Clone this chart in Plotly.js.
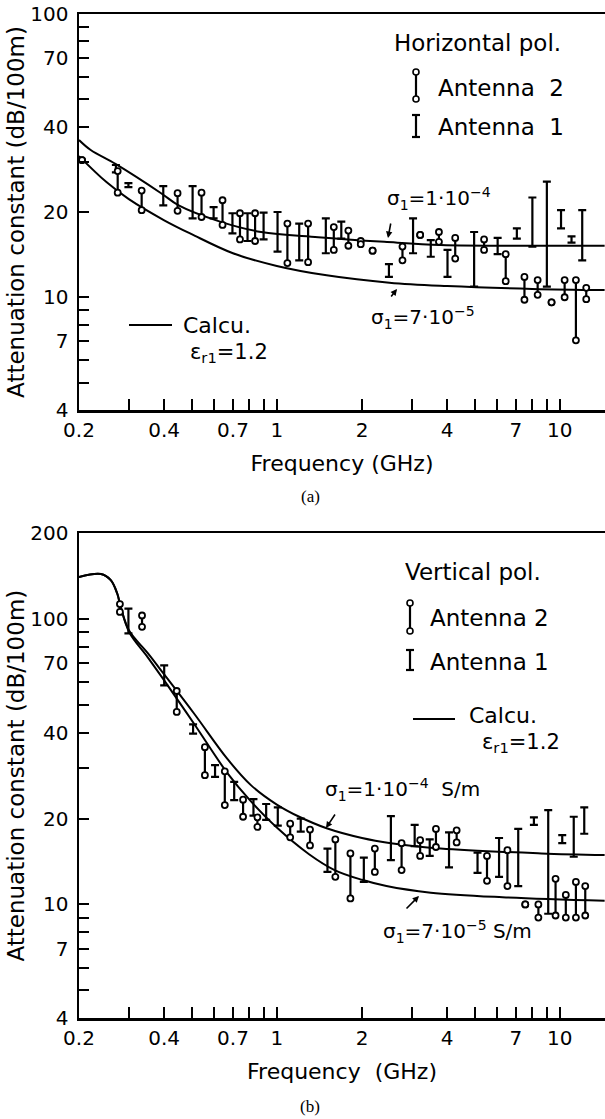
<!DOCTYPE html>
<html><head><meta charset="utf-8">
<script src="https://cdn.plot.ly/plotly-3.0.1.min.js"></script>
<style>html,body{margin:0;padding:0;background:#fff;}#chart{width:605px;height:1119px;}</style>
</head><body><div id="chart"></div>
<script>
// ---------- (a) Horizontal polarization ----------
const hA2Freq = [0.205,0.274,0.333,0.446,0.542,0.643,0.741,0.838,1.09,1.29,1.59,1.79,1.98,2.18,2.78,3.21,3.74,4.27,5.40,6.44,7.5,8.35,9.35,10.4,11.4,12.4];
const hA2High = [30.5,27.9,23.8,23.3,23.4,22.0,19.8,19.8,18.2,18.2,17.7,17.2,15.8,14.6,15.1,16.6,17.0,16.2,16.0,14.2,11.8,11.5,9.6,11.5,11.5,10.8];
const hA2Low  = [30.5,23.4,20.3,20.2,19.2,18.0,16.0,15.8,13.2,13.3,14.7,15.2,15.4,14.6,13.5,16.6,15.7,13.7,14.7,11.4,9.8,10.2,9.6,10.0,7.05,9.85];

const hA1Freq = [0.27,0.299,0.397,0.504,0.598,0.697,0.788,0.898,1.006,1.20,1.49,1.69,2.49,3.03,3.5,4.01,4.98,6.03,7.05,8.0,9.0,10.1,11.0,12.0];
const hA1High = [29.3,25.3,24.7,24.7,20.8,19.8,19.8,19.9,20.0,18.2,19.0,18.5,13.1,19.0,15.9,14.7,17.0,16.2,17.5,22.5,25.6,20.3,16.4,20.3];
const hA1Low  = [27.6,24.5,21.1,19.0,19.0,16.8,15.8,16.0,14.5,13.5,14.3,16.1,11.8,14.3,13.9,11.8,10.9,14.2,16.1,15.1,10.9,17.5,15.6,13.5];

const hCalcS1Freq = [0.2,0.22,0.27,0.39,0.45,0.63,0.88,1.4,2.4,3.8,8,14.4];
const hCalcS1Val  = [35.9,33.1,29.5,23.3,21.1,18.5,17.0,16.3,15.7,15.3,15.2,15.2];
const hCalcS2Freq = [0.2,0.25,0.3,0.4,0.5,0.7,1.0,1.5,2.5,4,8,14.4];
const hCalcS2Val  = [31.5,25.5,22.2,18.7,16.7,14.3,12.9,11.95,11.25,10.95,10.7,10.6];

// ---------- (b) Vertical polarization ----------
const vA2Freq = [0.279,0.334,0.443,0.557,0.655,0.760,0.854,1.115,1.31,1.61,1.82,2.22,2.76,3.21,3.65,4.32,5.53,6.53,7.55,8.4,9.66,10.5,11.4,12.3];
const vA2High = [113,103,56,35.6,29.3,23.3,20.2,19.2,18.3,16.9,15.1,15.7,16.4,16.8,18.4,18.2,14.8,15.5,10.0,10.0,12.3,10.8,12.0,11.6];
const vA2Low  = [106,94,47.3,28.4,22.3,20.3,18.7,17.2,16.1,12.5,10.5,13.0,13.2,14.8,15.9,16.5,12.1,11.6,10.0,9.0,9.15,9.0,9.0,9.15];

const vA1Freq = [0.299,0.400,0.506,0.605,0.707,0.827,0.917,1.008,1.215,1.51,2.03,2.53,3.07,3.47,4.06,5.12,6.10,7.13,8.1,9.1,10.2,11.2,12.2];
const vA1High = [108.9,68.9,42.8,30.8,26.9,23.4,22.5,21.9,20.0,15.7,14.6,20.4,19.0,16.9,17.9,15.2,17.1,18.4,20.2,21.4,17.5,20.3,21.9];
const vA1Low  = [89.2,58.6,39.7,28.0,23.2,20.5,19.8,18.9,18.0,13.0,12.0,14.3,16.0,14.8,13.5,12.9,12.5,11.6,19.0,9.28,16.4,14.7,17.7];

const vCalcS1Freq = [0.2,0.239,0.259,0.273,0.281,0.301,0.35,0.4,0.51,0.67,0.81,1.0,1.2,1.5,2.0,2.53,3.79,8.6,14.4];
const vCalcS1Val  = [140.6,144,137,123,110,91,76,64,46.7,32.3,26.2,22.4,20.3,18.5,17.1,16.4,15.7,15.1,14.9];
const vCalcS2Freq = [0.2,0.239,0.259,0.273,0.281,0.301,0.35,0.4,0.51,0.67,0.8,1.0,1.3,1.6,2.0,2.44,3.5,6.27,14.4];
const vCalcS2Val  = [140.6,144,137,123,110,90,73.5,61,43,28.8,23.3,18.6,15.0,13.2,12.2,11.6,11.0,10.6,10.3];

// ---------- axis ticks ----------
const xTickVals = [0.2,0.4,0.7,1,2,4,7,10];
const xTickText = ['0.2','0.4','0.7','1','2','4','7','10'];
const xMinorTicks = [0.3,0.5,0.6,0.8,0.9,3,5,6,8,9];
const xLongTicks = [1,10];
const xShortTicks = [11,12];
const yTickValsA = [4,7,10,20,40,70,100];
const yTickValsB = [4,7,10,20,40,70,100,200];
const yMinorTicks = [5,6,8,9,30,50,60,80,90];
const yLongTicksA = [10];
const yLongTicksB = [10,100];

// ---------- layout helpers (pixel -> paper) ----------
const W = 605, H = 1119, L = 79;
const px = x => (x - L) / (W - L);
const py = y => 1 - y / H;
const FONT = 'DejaVu Sans';
const X_RANGE = [Math.log10(0.2), Math.log10(0.2) + (W - L) / 283];

function a2(f, hi, lo, xa, ya) {
  const mk = {symbol: 'circle', size: 6, color: 'white', line: {color: 'black', width: 1.8}};
  return [
    {x: f, y: hi, xaxis: xa, yaxis: ya, type: 'scatter', mode: 'markers', marker: mk, showlegend: false, hoverinfo: 'skip',
     error_y: {type: 'data', symmetric: false, array: f.map(() => 0), arrayminus: hi.map((h, i) => h - lo[i]), width: 0, thickness: 2.2, color: 'black'}},
    {x: f, y: lo, xaxis: xa, yaxis: ya, type: 'scatter', mode: 'markers', marker: mk, showlegend: false, hoverinfo: 'skip'}
  ];
}
function a1(f, hi, lo, xa, ya) {
  return {x: f, y: hi, xaxis: xa, yaxis: ya, type: 'scatter', mode: 'markers', marker: {size: 2, color: 'rgba(0,0,0,0)'},
    showlegend: false, hoverinfo: 'skip',
    error_y: {type: 'data', symmetric: false, array: f.map(() => 0), arrayminus: hi.map((h, i) => h - lo[i]), width: 4, thickness: 2.2, color: 'black'}};
}
function curve(f, v, xa, ya) {
  return {x: f, y: v, xaxis: xa, yaxis: ya, type: 'scatter', mode: 'lines', line: {color: 'black', width: 2, shape: 'spline', smoothing: 1},
    showlegend: false, hoverinfo: 'skip'};
}

const data = [
  curve(hCalcS1Freq, hCalcS1Val, 'x', 'y'),
  curve(hCalcS2Freq, hCalcS2Val, 'x', 'y'),
  a1(hA1Freq, hA1High, hA1Low, 'x', 'y'),
  ...a2(hA2Freq, hA2High, hA2Low, 'x', 'y'),
  curve(vCalcS1Freq, vCalcS1Val, 'x2', 'y2'),
  curve(vCalcS2Freq, vCalcS2Val, 'x2', 'y2'),
  a1(vA1Freq, vA1High, vA1Low, 'x2', 'y2'),
  ...a2(vA2Freq, vA2High, vA2Low, 'x2', 'y2')
];

const tickBase = {ticks: 'inside', tickwidth: 2, tickcolor: 'black', showgrid: false, zeroline: false};
function xAxis(anchor, ttl) {
  return Object.assign({}, tickBase, {domain: [0, 1], anchor: anchor, type: 'log', range: X_RANGE, tickmode: 'array',
    tickvals: xTickVals, ticktext: xTickText, ticklen: 11, showline: true, linewidth: 2.5, linecolor: 'black', mirror: true,
    tickfont: {family: FONT, size: 20, color: 'black'}, ticklabelstandoff: 0,
    minor: {tickmode: 'array', tickvals: xMinorTicks, ticks: 'inside', ticklen: 11, tickwidth: 2, tickcolor: 'black', showgrid: false},
    title: {text: ttl, font: {family: FONT, size: 22, color: 'black'}, standoff: 15}});
}
function xLong(over, anchor) {
  return Object.assign({}, tickBase, {overlaying: over, anchor: anchor, side: 'bottom', type: 'log', range: X_RANGE, tickmode: 'array',
    tickvals: xLongTicks, ticklen: 23, showticklabels: false, showline: false,
    minor: {tickmode: 'array', tickvals: xShortTicks, ticks: 'inside', ticklen: 7, tickwidth: 2, tickcolor: 'black', showgrid: false}});
}
function yAxis(anchor, dom, rng, vals, ttl) {
  return Object.assign({}, tickBase, {domain: dom, anchor: anchor, type: 'log', range: rng, tickmode: 'array',
    tickvals: vals, ticktext: vals.map(String), ticklen: 10, showline: true, linewidth: 2.5, linecolor: 'black', mirror: false,
    tickfont: {family: FONT, size: 20, color: 'black'}, ticklabelstandoff: 4,
    minor: {tickmode: 'array', tickvals: yMinorTicks, ticks: 'inside', ticklen: 10, tickwidth: 2, tickcolor: 'black', showgrid: false},
    title: {text: ttl, font: {family: FONT, size: 23, color: 'black'}, standoff: 0}});
}
function yLong(over, anchor, rng, vals) {
  return Object.assign({}, tickBase, {overlaying: over, anchor: anchor, side: 'left', type: 'log', range: rng, tickmode: 'array',
    tickvals: vals, ticklen: 21, showticklabels: false, showline: false});
}

const yRangeA = [Math.log10(4), 2];
const yRangeB = [Math.log10(4), Math.log10(200)];
const yTitle = 'Attenuation constant (dB/100m)';

const ann = [];
const shapes = [];
function txt(t, x, y, size, anchor, fam) {
  ann.push({text: t, xref: 'paper', yref: 'paper', x: px(x), y: py(y), xanchor: anchor || 'left', yanchor: 'middle',
    showarrow: false, font: {family: fam || FONT, size: size || 22, color: 'black'}});
}
function arrow(tipX, tipY, tailX, tailY) {
  ann.push({text: '', xref: 'paper', yref: 'paper', x: px(tipX), y: py(tipY), ax: tailX - tipX, ay: tailY - tipY,
    showarrow: true, arrowhead: 2, arrowsize: 0.8, arrowwidth: 1.6, arrowcolor: 'black'});
}
function seg(x0, y0, x1, y1, w) {
  shapes.push({type: 'line', xref: 'paper', yref: 'paper', x0: px(x0), y0: py(y0), x1: px(x1), y1: py(y1), line: {color: 'black', width: w || 2}});
}
function dot(x, y) {
  shapes.push({type: 'circle', xref: 'paper', yref: 'paper', x0: px(x - 3), x1: px(x + 3), y0: py(y + 3), y1: py(y - 3),
    fillcolor: 'white', line: {color: 'black', width: 1.6}});
}
function legA2(x, y0, y1) { seg(x, y0, x, y1, 2.2); dot(x, y0); dot(x, y1); }
function legA1(x, y0, y1) { seg(x, y0, x, y1, 2.2); seg(x - 4, y0, x + 4, y0, 2.2); seg(x - 4, y1, x + 4, y1, 2.2); }

// (a)
txt('Horizontal pol.', 392, 43, 23);
legA2(416, 72, 99); txt('Antenna  2', 436, 88, 23);
legA1(416, 115, 137); txt('Antenna  1', 436, 127, 23);
txt('σ<sub>1</sub>=1·10<sup>−4</sup>', 385, 198, 20);
arrow(388, 238, 391, 222);
txt('σ<sub>1</sub>=7·10<sup>−5</sup>', 369, 318, 20);
arrow(397, 289, 390, 298);
seg(129, 325, 172, 325, 2);
txt('Calcu.', 181, 325, 22);
txt('ε<sub>r1</sub>=1.2', 188, 353, 21);
txt('(a)', 310, 496, 17, 'center', 'Liberation Serif');
// (b)
txt('Vertical pol.', 403, 572, 23);
legA2(410, 603, 631); txt('Antenna 2', 428, 618, 23);
legA1(410, 650, 670); txt('Antenna 1', 428, 662, 23);
seg(413, 719, 455, 719, 2);
txt('Calcu.', 467, 716, 22);
txt('ε<sub>r1</sub>=1.2', 480, 743, 21);
txt('σ<sub>1</sub>=1·10<sup>−4</sup>  S/m', 323, 789, 20);
arrow(326, 828, 336, 813);
txt('σ<sub>1</sub>=7·10<sup>−5</sup> S/m', 381, 931, 20);
arrow(419, 896, 405, 910);
txt('(b)', 310, 1106, 17, 'center', 'Liberation Serif');

const layout = {
  width: W, height: H, margin: {l: L, r: 0, t: 0, b: 0}, paper_bgcolor: 'white', plot_bgcolor: 'white',
  showlegend: false, font: {family: FONT, color: 'black'},
  xaxis: xAxis('y', 'Frequency (GHz)'),
  yaxis: yAxis('x', [py(410), py(14)], yRangeA, yTickValsA, yTitle),
  xaxis2: xAxis('y2', 'Frequency  (GHz)'),
  yaxis2: yAxis('x2', [py(1018), py(533.3)], yRangeB, yTickValsB, yTitle),
  xaxis3: xLong('x', 'y'),
  yaxis3: yLong('y', 'x', yRangeA, yLongTicksA),
  xaxis4: xLong('x2', 'y2'),
  yaxis4: yLong('y2', 'x2', yRangeB, yLongTicksB),
  annotations: ann, shapes: shapes
};
Plotly.newPlot('chart', data, layout, {staticPlot: true, displayModeBar: false});
</script></body></html>
